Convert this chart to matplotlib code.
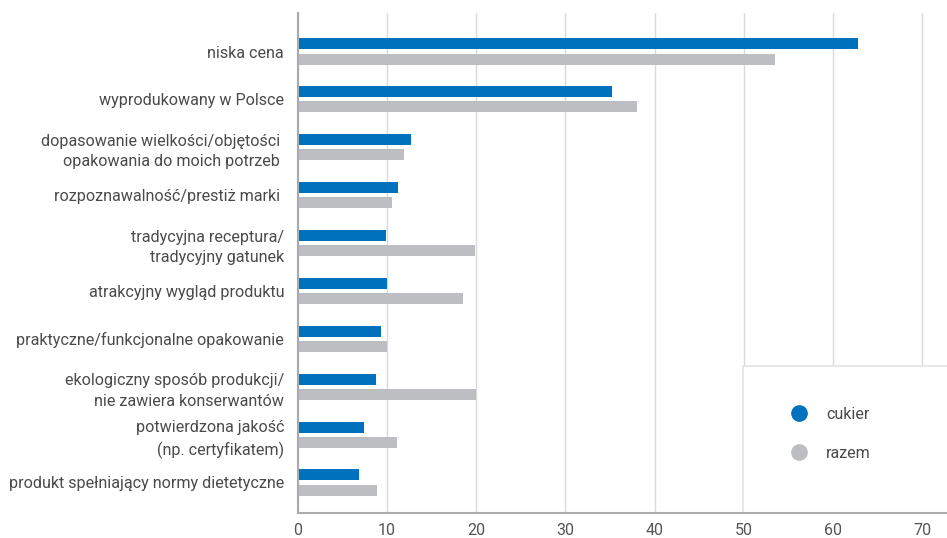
import matplotlib.pyplot as plt
from matplotlib.lines import Line2D
from matplotlib.patches import Rectangle
import numpy as np

plt.rcParams['font.family'] = ['Roboto', 'DejaVu Sans']

categories = [
    'niska cena',
    'wyprodukowany w Polsce',
    'dopasowanie wielkości/objętości \nopakowania do moich potrzeb ',
    'rozpoznawalność/prestiż marki ',
    'tradycyjna receptura/\ntradycyjny gatunek',
    'atrakcyjny wygląd produktu',
    'praktyczne/funkcjonalne opakowanie',
    'ekologiczny sposób produkcji/\nnie zawiera konserwantów',
    'potwierdzona jakość\n(np. certyfikatem)',
    'produkt spełniający normy dietetyczne',
]
cukier = [62.8, 35.2, 12.7, 11.2, 9.9, 10.0, 9.3, 8.7, 7.4, 6.8]
razem = [53.5, 38.0, 11.9, 10.5, 19.8, 18.5, 10.0, 20.0, 11.1, 8.9]
xticks = [0, 10, 20, 30, 40, 50, 60, 70]

blue = '#0071BC'
grey = '#BDBEC2'

fig = plt.figure(figsize=(9.47, 5.38), dpi=100)
ax = fig.add_axes([298 / 947, 1 - 513 / 538, 649 / 947, 500 / 538])

y = np.arange(len(categories))
h = 0.23
off = 0.157
ax.barh(y - off, cukier, height=h, color=blue, zorder=3)
ax.barh(y + off, razem, height=h, color=grey, zorder=3)

ax.set_ylim(9.637, -0.804)
ax.set_xlim(0, 72.8)
ax.set_yticks(y)
ax.set_yticklabels(categories, fontsize=11.6, color='#4A4A4A', linespacing=1.45)
ax.set_xticks(xticks)
ax.set_xticklabels([str(t) for t in xticks], fontsize=11.5, color='#555555')
ax.tick_params(axis='y', length=0, pad=10)
ax.tick_params(axis='x', length=0, pad=7)

ax.grid(axis='x', color='#DADADA', linewidth=1, zorder=0)
for s in ['top', 'right']:
    ax.spines[s].set_visible(False)
for s in ['left', 'bottom']:
    ax.spines[s].set_color('#ABABAB')
    ax.spines[s].set_linewidth(1.5)
    ax.spines[s].set_zorder(7)

# legend box
ax.add_patch(Rectangle((0.6857, 0), 0.35, 0.294, transform=ax.transAxes,
                       facecolor='white', edgecolor='#E3E3E3', linewidth=1.2,
                       zorder=5, clip_on=False))
handles = [
    Line2D([], [], marker='o', linestyle='none', markersize=11,
           markerfacecolor=blue, markeredgecolor=blue, label='cukier'),
    Line2D([], [], marker='o', linestyle='none', markersize=11,
           markerfacecolor=grey, markeredgecolor=grey, label='razem'),
]
leg = ax.legend(handles=handles, loc='center left', bbox_to_anchor=(0.725, 0.158),
                frameon=False, fontsize=11.5, labelspacing=1.5, handletextpad=0.7,
                labelcolor='#4A4A4A')
leg.set_zorder(6)

fig.savefig('out.png', dpi=100)
